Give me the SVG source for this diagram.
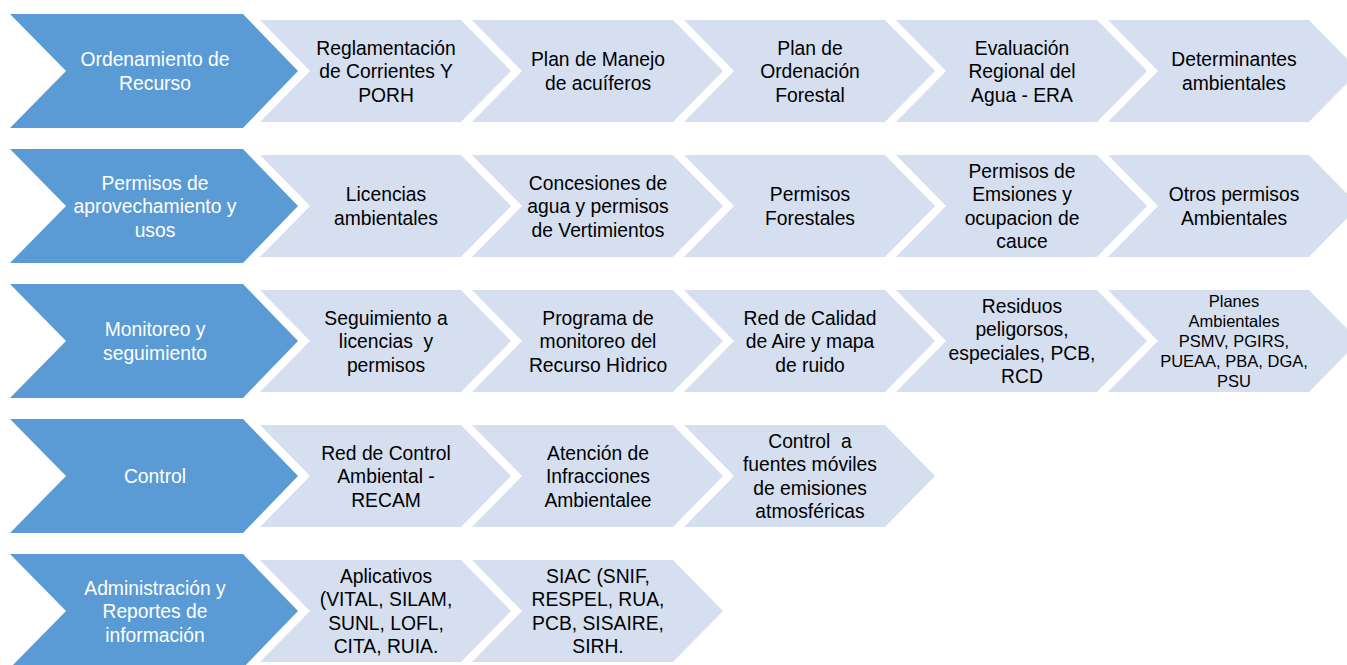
<svg xmlns="http://www.w3.org/2000/svg" xmlns:xlink="http://www.w3.org/1999/xlink" width="1347" height="665" viewBox="0 0 1347 665">
<style>
.hd{fill:#5B9BD5}
.it{fill:#D5DFEF}
text{font-family:"Liberation Sans",Arial,sans-serif;font-size:19.3px;text-anchor:middle}
.th{fill:#FFFFFF}
.tt{fill:#000000}
.sm{font-size:16.5px}
</style>
<defs>
<polygon id="bc" points="0,0 233,0 288,57 233,114 0,114 56,57"/>
<polygon id="lc" points="0,6 201,6 251,57 201,108 0,108 50,57"/>
</defs>
<rect width="1347" height="665" fill="#FFFFFF"/>
<g id="connectors"/>

<!-- Row 1 -->
<g id="r1-head"><use href="#bc" class="hd" x="10" y="14"/><text class="th"><tspan x="155" y="66.25">Ordenamiento de</tspan><tspan x="155" y="89.75">Recurso</tspan></text></g>
<g id="r1-1"><use href="#lc" class="it" x="260" y="14"/><text class="tt"><tspan x="386" y="54.5">Reglamentación</tspan><tspan x="386" y="78">de Corrientes Y</tspan><tspan x="386" y="101.5">PORH</tspan></text></g>
<g id="r1-2"><use href="#lc" class="it" x="472" y="14"/><text class="tt"><tspan x="598" y="66.25">Plan de Manejo</tspan><tspan x="598" y="89.75">de acuíferos</tspan></text></g>
<g id="r1-3"><use href="#lc" class="it" x="684" y="14"/><text class="tt"><tspan x="810" y="54.5">Plan de</tspan><tspan x="810" y="78">Ordenación</tspan><tspan x="810" y="101.5">Forestal</tspan></text></g>
<g id="r1-4"><use href="#lc" class="it" x="896" y="14"/><text class="tt"><tspan x="1022" y="54.5">Evaluación</tspan><tspan x="1022" y="78">Regional del</tspan><tspan x="1022" y="101.5">Agua - ERA</tspan></text></g>
<g id="r1-5"><use href="#lc" class="it" x="1108" y="14"/><text class="tt"><tspan x="1234" y="66.25">Determinantes</tspan><tspan x="1234" y="89.75">ambientales</tspan></text></g>

<!-- Row 2 -->
<g id="r2-head"><use href="#bc" class="hd" x="10" y="149"/><text class="th"><tspan x="155" y="189.5">Permisos de</tspan><tspan x="155" y="213">aprovechamiento y</tspan><tspan x="155" y="236.5">usos</tspan></text></g>
<g id="r2-1"><use href="#lc" class="it" x="260" y="149"/><text class="tt"><tspan x="386" y="201.25">Licencias</tspan><tspan x="386" y="224.75">ambientales</tspan></text></g>
<g id="r2-2"><use href="#lc" class="it" x="472" y="149"/><text class="tt"><tspan x="598" y="189.5">Concesiones de</tspan><tspan x="598" y="213">agua y permisos</tspan><tspan x="598" y="236.5">de Vertimientos</tspan></text></g>
<g id="r2-3"><use href="#lc" class="it" x="684" y="149"/><text class="tt"><tspan x="810" y="201.25">Permisos</tspan><tspan x="810" y="224.75">Forestales</tspan></text></g>
<g id="r2-4"><use href="#lc" class="it" x="896" y="149"/><text class="tt"><tspan x="1022" y="177.75">Permisos de</tspan><tspan x="1022" y="201.25">Emsiones y</tspan><tspan x="1022" y="224.75">ocupacion de</tspan><tspan x="1022" y="248.25">cauce</tspan></text></g>
<g id="r2-5"><use href="#lc" class="it" x="1108" y="149"/><text class="tt"><tspan x="1234" y="201.25">Otros permisos</tspan><tspan x="1234" y="224.75">Ambientales</tspan></text></g>

<!-- Row 3 -->
<g id="r3-head"><use href="#bc" class="hd" x="10" y="284"/><text class="th"><tspan x="155" y="336.25">Monitoreo y</tspan><tspan x="155" y="359.75">seguimiento</tspan></text></g>
<g id="r3-1"><use href="#lc" class="it" x="260" y="284"/><text class="tt"><tspan x="386" y="324.5">Seguimiento a</tspan><tspan x="386" y="348" xml:space="preserve">licencias  y</tspan><tspan x="386" y="371.5">permisos</tspan></text></g>
<g id="r3-2"><use href="#lc" class="it" x="472" y="284"/><text class="tt"><tspan x="598" y="324.5">Programa de</tspan><tspan x="598" y="348">monitoreo del</tspan><tspan x="598" y="371.5">Recurso Hìdrico</tspan></text></g>
<g id="r3-3"><use href="#lc" class="it" x="684" y="284"/><text class="tt"><tspan x="810" y="324.5">Red de Calidad</tspan><tspan x="810" y="348">de Aire y mapa</tspan><tspan x="810" y="371.5">de ruido</tspan></text></g>
<g id="r3-4"><use href="#lc" class="it" x="896" y="284"/><text class="tt"><tspan x="1022" y="312.75">Residuos</tspan><tspan x="1022" y="336.25">peligorsos,</tspan><tspan x="1022" y="359.75">especiales, PCB,</tspan><tspan x="1022" y="383.25">RCD</tspan></text></g>
<g id="r3-5"><use href="#lc" class="it" x="1108" y="284"/><text class="tt sm"><tspan x="1234" y="306.8">Planes</tspan><tspan x="1234" y="326.8">Ambientales</tspan><tspan x="1234" y="346.8">PSMV, PGIRS,</tspan><tspan x="1234" y="366.8">PUEAA, PBA, DGA,</tspan><tspan x="1234" y="386.8">PSU</tspan></text></g>

<!-- Row 4 -->
<g id="r4-head"><use href="#bc" class="hd" x="10" y="419"/><text class="th"><tspan x="155" y="483">Control</tspan></text></g>
<g id="r4-1"><use href="#lc" class="it" x="260" y="419"/><text class="tt"><tspan x="386" y="459.5">Red de Control</tspan><tspan x="386" y="483">Ambiental -</tspan><tspan x="386" y="506.5">RECAM</tspan></text></g>
<g id="r4-2"><use href="#lc" class="it" x="472" y="419"/><text class="tt"><tspan x="598" y="459.5">Atención de</tspan><tspan x="598" y="483">Infracciones</tspan><tspan x="598" y="506.5">Ambientalee</tspan></text></g>
<g id="r4-3"><use href="#lc" class="it" x="684" y="419"/><text class="tt"><tspan x="810" y="447.75" xml:space="preserve">Control  a</tspan><tspan x="810" y="471.25">fuentes móviles</tspan><tspan x="810" y="494.75">de emisiones</tspan><tspan x="810" y="518.25">atmosféricas</tspan></text></g>

<!-- Row 5 -->
<g id="r5-head"><use href="#bc" class="hd" x="10" y="554"/><text class="th"><tspan x="155" y="594.5">Administración y</tspan><tspan x="155" y="618">Reportes de</tspan><tspan x="155" y="641.5">información</tspan></text></g>
<g id="r5-1"><use href="#lc" class="it" x="260" y="554"/><text class="tt"><tspan x="386" y="582.75">Aplicativos</tspan><tspan x="386" y="606.25">(VITAL, SILAM,</tspan><tspan x="386" y="629.75">SUNL, LOFL,</tspan><tspan x="386" y="653.25">CITA, RUIA.</tspan></text></g>
<g id="r5-2"><use href="#lc" class="it" x="472" y="554"/><text class="tt"><tspan x="598" y="582.75">SIAC (SNIF,</tspan><tspan x="598" y="606.25">RESPEL, RUA,</tspan><tspan x="598" y="629.75">PCB, SISAIRE,</tspan><tspan x="598" y="653.25">SIRH.</tspan></text></g>
</svg>
